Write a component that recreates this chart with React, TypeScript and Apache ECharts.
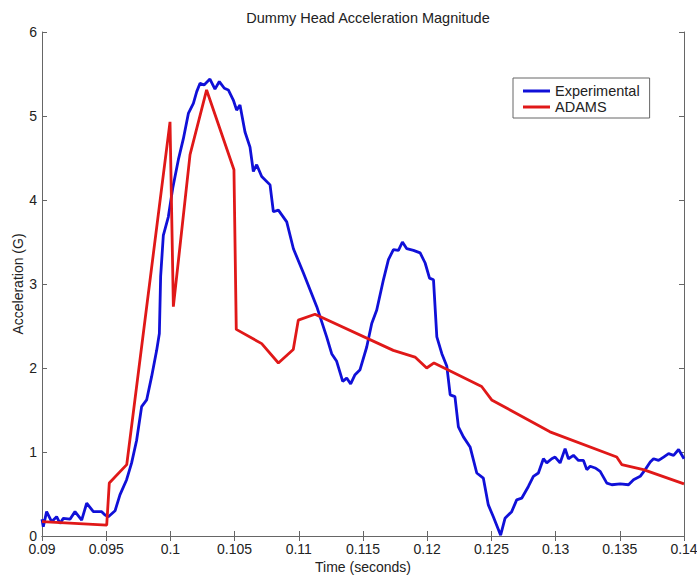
import React, { useEffect, useRef } from "react";
import * as echarts from "echarts";

const expT = [0.09, 0.0901, 0.09036, 0.09075, 0.09114, 0.0914, 0.09166, 0.09218, 0.09257, 0.09309, 0.09348, 0.094, 0.09465, 0.09491, 0.09517, 0.09569, 0.09607, 0.09659, 0.09698, 0.09737, 0.09776, 0.09815, 0.09854, 0.09893, 0.09914, 0.09924, 0.09945, 0.09984, 0.10018, 0.10062, 0.10101, 0.1014, 0.10179, 0.10205, 0.10231, 0.10262, 0.10308, 0.10347, 0.10381, 0.1042, 0.10451, 0.1049, 0.10516, 0.10542, 0.10581, 0.1062, 0.10646, 0.10672, 0.10711, 0.10776, 0.10802, 0.10841, 0.10906, 0.10958, 0.11036, 0.1114, 0.11217, 0.11256, 0.11295, 0.11342, 0.11373, 0.11404, 0.11438, 0.11477, 0.11529, 0.11568, 0.11607, 0.11659, 0.11698, 0.11737, 0.11776, 0.11807, 0.11841, 0.11893, 0.11945, 0.11984, 0.12018, 0.12049, 0.12075, 0.12114, 0.12153, 0.12179, 0.12216, 0.12243, 0.12282, 0.12334, 0.12386, 0.12437, 0.12476, 0.12515, 0.12572, 0.12606, 0.12658, 0.12697, 0.12736, 0.12788, 0.12827, 0.12866, 0.12905, 0.12931, 0.1297, 0.12996, 0.13035, 0.13074, 0.131, 0.13139, 0.13178, 0.13217, 0.13243, 0.13269, 0.13308, 0.13347, 0.13399, 0.13438, 0.13503, 0.13568, 0.13607, 0.13659, 0.13698, 0.13737, 0.13763, 0.13802, 0.13841, 0.1388, 0.13919, 0.13958, 0.14];
const expG = [0.2, 0.11, 0.29, 0.17, 0.23, 0.15, 0.21, 0.2, 0.29, 0.19, 0.39, 0.29, 0.29, 0.25, 0.23, 0.3, 0.49, 0.67, 0.87, 1.14, 1.54, 1.62, 1.9, 2.21, 2.41, 3.09, 3.58, 3.8, 4.14, 4.48, 4.73, 5.03, 5.15, 5.29, 5.39, 5.37, 5.44, 5.32, 5.41, 5.33, 5.31, 5.19, 5.07, 5.13, 4.81, 4.63, 4.34, 4.42, 4.28, 4.18, 3.86, 3.88, 3.74, 3.42, 3.13, 2.73, 2.37, 2.17, 2.08, 1.84, 1.88, 1.81, 1.92, 1.98, 2.25, 2.53, 2.69, 3.05, 3.29, 3.41, 3.4, 3.5, 3.42, 3.4, 3.37, 3.25, 3.07, 3.05, 2.37, 2.17, 2.02, 1.68, 1.66, 1.3, 1.18, 1.06, 0.75, 0.69, 0.37, 0.23, 0.01, 0.21, 0.29, 0.43, 0.45, 0.59, 0.71, 0.75, 0.92, 0.87, 0.92, 0.94, 0.87, 1.04, 0.92, 0.96, 0.9, 0.9, 0.79, 0.83, 0.81, 0.77, 0.63, 0.61, 0.62, 0.61, 0.67, 0.71, 0.79, 0.88, 0.92, 0.9, 0.94, 0.98, 0.96, 1.03, 0.92];

const adamsT = [0.09, 0.09504, 0.09524, 0.0966, 0.09997, 0.10023, 0.10153, 0.10282, 0.10495, 0.10513, 0.10711, 0.10841, 0.10957, 0.10996, 0.11126, 0.11736, 0.11905, 0.11996, 0.12053, 0.12424, 0.12502, 0.12956, 0.13476, 0.13515, 0.13684, 0.14];
const adamsG = [0.17, 0.13, 0.63, 0.85, 4.93, 2.73, 4.54, 5.31, 4.36, 2.46, 2.29, 2.06, 2.22, 2.57, 2.64, 2.21, 2.13, 2.0, 2.06, 1.78, 1.62, 1.24, 0.94, 0.85, 0.79, 0.62];

const xTicks = { min: 0.09, max: 0.14, interval: 0.005 };
const yTicks = { min: 0, max: 6, interval: 1 };

const seriesNames = ["Experimental", "ADAMS"];

export default function App() {
  const ref = useRef<HTMLDivElement>(null);
  useEffect(() => {
    if (!ref.current) return;
    const chart = echarts.init(ref.current, null, { renderer: "svg" });
    const font = "Liberation Sans, Arial, sans-serif";
    const axisCommon = {
      axisLine: { show: true, lineStyle: { color: "#666", width: 1 } },
      axisTick: { show: true, inside: true, length: 5, lineStyle: { color: "#666" } },
      splitLine: { show: false },
    };
    const fmtX = (v: number) => parseFloat(v.toFixed(3)).toString();
    chart.setOption({
      animation: false,
      backgroundColor: "#fff",
      title: {
        text: "Dummy Head Acceleration Magnitude",
        left: 363,
        textAlign: "center",
        top: 5,
        textStyle: { fontFamily: font, fontSize: 14.5, fontWeight: "normal", color: "#222" },
      },
      legend: {
        orient: "vertical",
        left: 513,
        top: 78,
        backgroundColor: "#fff",
        borderColor: "#666",
        borderWidth: 1,
        borderRadius: 0,
        padding: [5, 10, 3, 10],
        icon: "rect",
        itemWidth: 27,
        itemHeight: 3,
        itemGap: 0,
        textStyle: { fontFamily: font, fontSize: 14.5, color: "#222", lineHeight: 16, padding: [0, 0, 0, 0] },
        data: seriesNames,
      },
      grid: { left: 42, right: 13, top: 32, bottom: 41, containLabel: false, outerBoundsMode: "none" },
      xAxis: [
        {
          type: "value",
          ...xTicks,
          ...axisCommon,
          name: "Time (seconds)",
          nameLocation: "middle",
          nameGap: 24,
          nameMoveOverlap: false,
          nameTextStyle: { fontFamily: font, fontSize: 14, color: "#222" },
          axisLabel: { fontFamily: font, fontSize: 14, color: "#222", margin: 6, formatter: fmtX },
        },
        {
          type: "value",
          position: "top",
          ...xTicks,
          ...axisCommon,
          axisLabel: { show: false },
        },
      ],
      yAxis: [
        {
          type: "value",
          ...yTicks,
          ...axisCommon,
          name: "Acceleration (G)",
          nameLocation: "middle",
          nameGap: 17,
          nameMoveOverlap: false,
          nameTextStyle: { fontFamily: font, fontSize: 14, color: "#222" },
          axisLabel: { fontFamily: font, fontSize: 14, color: "#222", margin: 5 },
        },
        {
          type: "value",
          position: "right",
          ...yTicks,
          ...axisCommon,
          axisLabel: { show: false },
        },
      ],
      series: [
        {
          name: seriesNames[0],
          type: "line",
          symbol: "none",
          data: expT.map((t, i) => [t, expG[i]]),
          lineStyle: { color: "#1010d8", width: 2.8 },
          itemStyle: { color: "#1010d8" },
          z: 2,
        },
        {
          name: seriesNames[1],
          type: "line",
          symbol: "none",
          data: adamsT.map((t, i) => [t, adamsG[i]]),
          lineStyle: { color: "#e01818", width: 2.8 },
          itemStyle: { color: "#e01818" },
          z: 3,
        },
      ],
    });
    return () => chart.dispose();
  }, []);
  return <div ref={ref} style={{ width: 697, height: 577, position: "absolute", left: 0, top: 0 }} />;
}
